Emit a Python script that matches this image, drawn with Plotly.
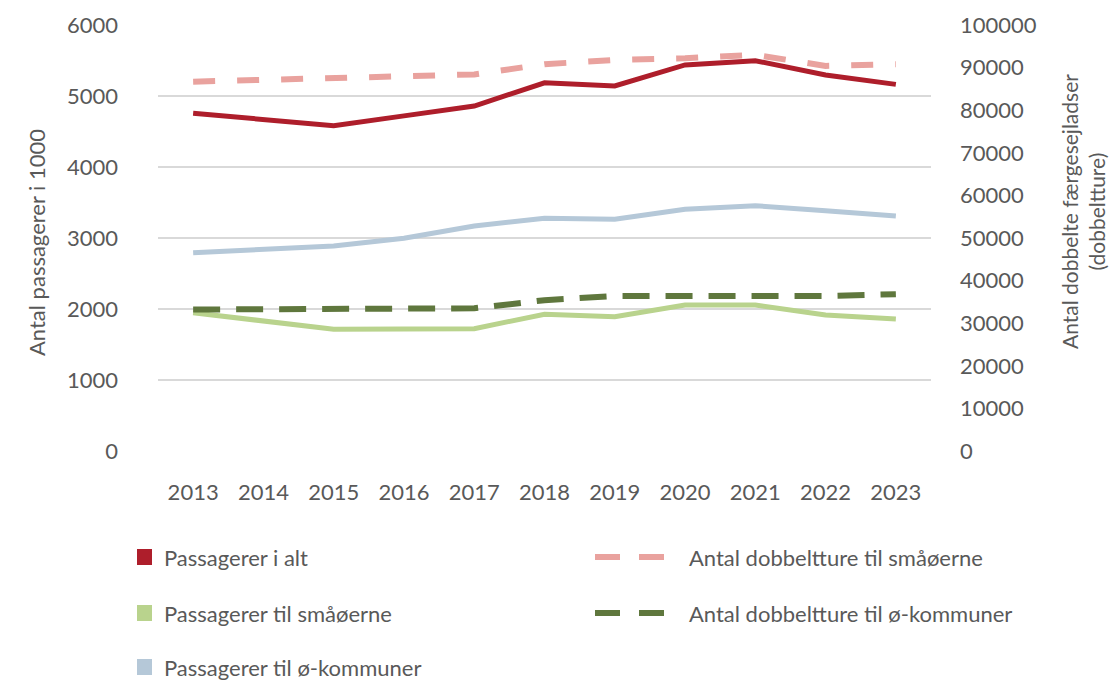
import plotly.graph_objects as go

# Years on the category axis
years = ["2013", "2014", "2015", "2016", "2017", "2018", "2019", "2020", "2021", "2022", "2023"]

# Passengers (in 1000) - left axis
passagerer_i_alt = [4756, 4670, 4582, 4720, 4859, 5186, 5141, 5437, 5497, 5296, 5164]
passagerer_smaaoer = [1948, 1830, 1714, 1718, 1723, 1927, 1892, 2056, 2056, 1915, 1859]
passagerer_oekommuner = [2793, 2840, 2887, 2996, 3169, 3277, 3263, 3404, 3455, 3384, 3310]

# Double trips - right axis
dobbeltture_smaaoer = [86700, 87100, 87500, 88000, 88400, 90800, 91800, 92200, 93000, 90400, 90800]
dobbeltture_oekommuner = [33200, 33200, 33200, 33200, 33500, 35400, 36400, 36400, 36400, 36400, 36800]

left_ticks = [0, 1000, 2000, 3000, 4000, 5000, 6000]
right_ticks = [0, 10000, 20000, 30000, 40000, 50000, 60000, 70000, 80000, 90000, 100000]
right_ticktext = [str(v) for v in right_ticks]

RED = "#AE1E2B"
PINK = "#E9A29E"
LGREEN = "#B9D38D"
LBLUE = "#B5C8D8"
DGREEN = "#5F773D"
TXT = "#595959"
GRID = "#D9D9D9"
FONT = "Lato"
FS = 22

W, H = 1109, 680
ML, MR, MT, MB = 158, 178, 25, 229
PW, PH = W - ML - MR, H - MT - MB


def px(xp):
    return (xp - ML) / PW


def py(yp):
    return (H - MB - yp) / PH


fig = go.Figure()

fig.add_trace(go.Scatter(x=years, y=dobbeltture_smaaoer, yaxis="y2", mode="lines",
                         line=dict(color=PINK, width=6, dash="22px,22px"),
                         name="Antal dobbeltture til småøerne", showlegend=False))
fig.add_trace(go.Scatter(x=years, y=dobbeltture_oekommuner, yaxis="y2", mode="lines",
                         line=dict(color=DGREEN, width=6, dash="27px,16px"),
                         name="Antal dobbeltture til ø-kommuner", showlegend=False))
fig.add_trace(go.Scatter(x=years, y=passagerer_oekommuner, mode="lines",
                         line=dict(color=LBLUE, width=5),
                         name="Passagerer til ø-kommuner", showlegend=False))
fig.add_trace(go.Scatter(x=years, y=passagerer_smaaoer, mode="lines",
                         line=dict(color=LGREEN, width=5),
                         name="Passagerer til småøerne", showlegend=False))
fig.add_trace(go.Scatter(x=years, y=passagerer_i_alt, mode="lines",
                         line=dict(color=RED, width=5),
                         name="Passagerer i alt", showlegend=False))

fig.update_layout(
    width=W, height=H,
    margin=dict(l=ML, r=MR, t=MT, b=MB),
    paper_bgcolor="white", plot_bgcolor="white",
    font=dict(family=FONT, size=FS, color=TXT),
    showlegend=False,
    xaxis=dict(type="category", range=[-0.5, 10.5], showgrid=False, zeroline=False,
               showline=False, ticks="", ticklabelstandoff=26,
               tickfont=dict(family=FONT, size=FS, color=TXT)),
    yaxis=dict(range=[0, 6000], tickvals=left_ticks, showgrid=True, gridcolor=GRID,
               gridwidth=2, zeroline=False, showline=False, ticks="",
               ticklabelstandoff=39, tickfont=dict(family=FONT, size=FS, color=TXT)),
    yaxis2=dict(range=[0, 100000], tickvals=right_ticks, ticktext=right_ticktext,
                overlaying="y", side="right",
                showgrid=False, zeroline=False, showline=False, ticks="",
                ticklabelstandoff=28, tickfont=dict(family=FONT, size=FS, color=TXT)),
)

# Axis titles
fig.add_annotation(text="Antal passagerer i 1000", xref="paper", yref="paper",
                   x=px(36), y=py(243), xanchor="center", yanchor="middle",
                   textangle=-90, showarrow=False,
                   font=dict(family=FONT, size=FS, color=TXT))
fig.add_annotation(text="Antal dobbelte færgesejladser<br>(dobbeltture)", xref="paper",
                   yref="paper", x=px(1083), y=py(212), xanchor="center", yanchor="middle",
                   textangle=-90, showarrow=False,
                   font=dict(family=FONT, size=21, color=TXT), align="center")

# Legend drawn below the plot: (label, colour, kind, symbol x, row y)
legend_items = [
    ("Passagerer i alt", RED, "box", 137, 557),
    ("Antal dobbeltture til småøerne", PINK, "dash", 595, 557),
    ("Passagerer til småøerne", LGREEN, "box", 137, 613),
    ("Antal dobbeltture til ø-kommuner", DGREEN, "dash", 595, 613),
    ("Passagerer til ø-kommuner", LBLUE, "box", 137, 667),
]
for label, col, kind, sx, sy in legend_items:
    if kind == "box":
        fig.add_shape(type="rect", xref="paper", yref="paper",
                      x0=px(sx), x1=px(sx + 15), y0=py(sy - 8), y1=py(sy + 8),
                      fillcolor=col, line=dict(width=0))
        tx = sx + 25
    else:
        for d0 in (0, 44):
            fig.add_shape(type="line", xref="paper", yref="paper",
                          x0=px(sx + d0), x1=px(sx + d0 + 25), y0=py(sy), y1=py(sy),
                          line=dict(color=col, width=6))
        tx = sx + 92
    fig.add_annotation(text=label, xref="paper", yref="paper", x=px(tx), y=py(sy),
                       xanchor="left", yanchor="middle", showarrow=False,
                       font=dict(family=FONT, size=FS, color=TXT))

fig.write_html("out.html")
